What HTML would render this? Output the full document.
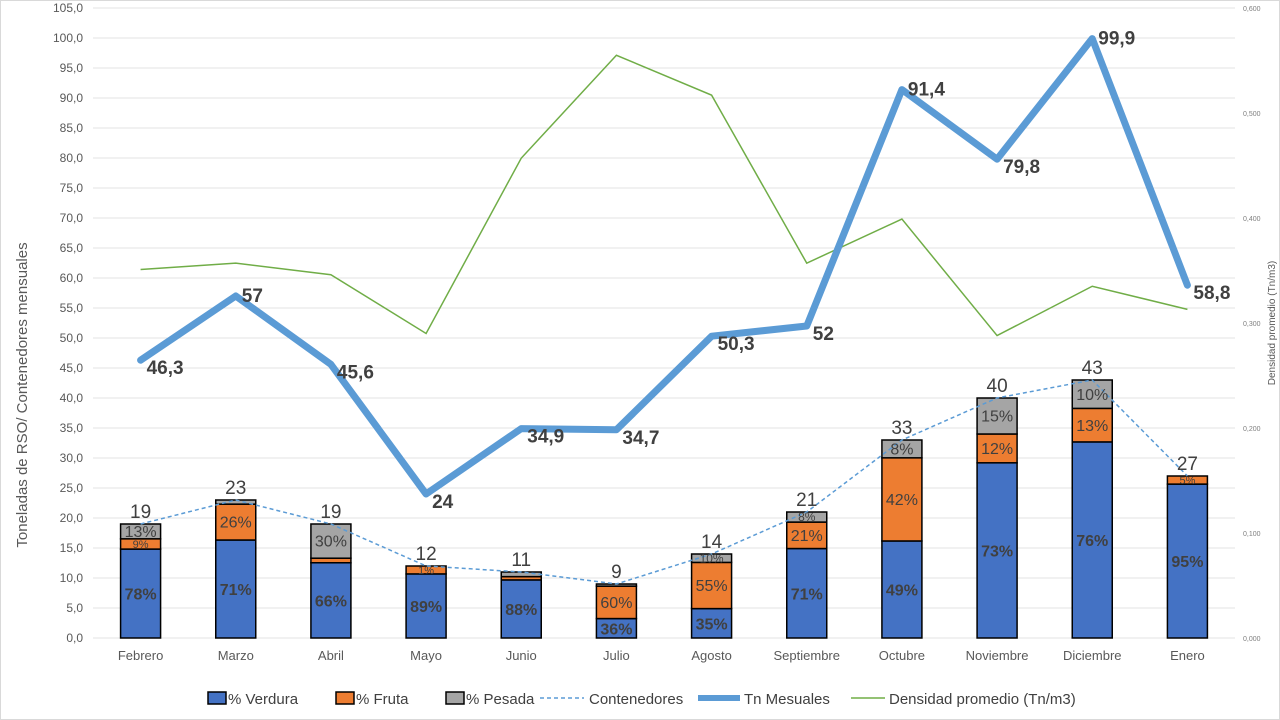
<!DOCTYPE html>
<html><head><meta charset="utf-8"><style>
html,body{margin:0;padding:0;background:#fff;}
svg{display:block;font-family:"Liberation Sans",sans-serif;}
</style></head><body>
<svg id="chart" width="1280" height="720" viewBox="0 0 1280 720" xmlns="http://www.w3.org/2000/svg">
<rect x="0.5" y="0.5" width="1279" height="719" fill="#fff" stroke="#d9d9d9"/>
<g id="grid"></g><g id="bars"></g><g id="lines"></g><g id="labels"></g>
<text transform="translate(27,395) rotate(-90)" text-anchor="middle" font-size="15" fill="#595959">Toneladas de RSO/ Contenedores mensuales</text>
<text transform="translate(1275,323) rotate(-90)" text-anchor="middle" font-size="10" fill="#595959">Densidad promedio (Tn/m3)</text>
<g id="legend" font-size="15" fill="#404040">
<rect x="208" y="692" width="18" height="12" fill="#4472c4" stroke="#000" stroke-width="1.5"/><text x="228" y="704">% Verdura</text>
<rect x="336" y="692" width="18" height="12" fill="#ed7d31" stroke="#000" stroke-width="1.5"/><text x="356" y="704">% Fruta</text>
<rect x="446" y="692" width="18" height="12" fill="#a5a5a5" stroke="#000" stroke-width="1.5"/><text x="466" y="704">% Pesada</text>
<line x1="540" y1="698" x2="584" y2="698" stroke="#5b9bd5" stroke-width="1.5" stroke-dasharray="4,3"/><text x="589" y="704">Contenedores</text>
<line x1="698" y1="698" x2="740" y2="698" stroke="#5b9bd5" stroke-width="6"/><text x="744" y="704">Tn Mesuales</text>
<line x1="851" y1="698" x2="885" y2="698" stroke="#70ad47" stroke-width="1.5"/><text x="889" y="704">Densidad promedio (Tn/m3)</text>
</g>
</svg>
<script>
const months=["Febrero","Marzo","Abril","Mayo","Junio","Julio","Agosto","Septiembre","Octubre","Noviembre","Diciembre","Enero"];
const containers=[19,23,19,12,11,9,14,21,33,40,43,27];
const verdura=[78,71,66,89,88,36,35,71,49,73,76,95];
const fruta=[9,26,4,11,5,60,55,21,42,12,13,5];
const pesada=[13,3,30,0,7,4,10,8,9,15,11,0];
const pesadaLbl=["13%","","30%","","","","10%","8%","8%","15%","10%",""];
const frutaLbl=["9%","26%","","1%","","60%","55%","21%","42%","12%","13%","5%"];
const tn=[46.3,57,45.6,24,34.9,34.7,50.3,52,91.4,79.8,99.9,58.8];
const densidad=[0.351,0.357,0.346,0.29,0.457,0.555,0.517,0.357,0.399,0.288,0.335,0.313];
const yTicks=[0,5,10,15,20,25,30,35,40,45,50,55,60,65,70,75,80,85,90,95,100,105];
const y2Ticks=[0,0.1,0.2,0.3,0.4,0.5,0.6];

const NS="http://www.w3.org/2000/svg";
const X0=93,X1=1235,Y0=638,Y1=8;
const y=v=>Y0-(v/105)*(Y0-Y1);
const y2=v=>Y0-(v/0.6)*(Y0-Y1);
const step=(X1-X0)/months.length;
const x=i=>X0+step*(i+0.5);
function mk(tag,attrs,parent,txt){const e=document.createElementNS(NS,tag);for(const k in attrs)e.setAttribute(k,attrs[k]);if(txt!==undefined)e.textContent=txt;document.getElementById(parent).appendChild(e);return e;}
const fmt=v=>v.toFixed(1).replace('.',',');

yTicks.forEach(t=>{
  const l=mk('line',{x1:X0,x2:X1,y1:y(t),y2:y(t),stroke:'#e3e3e3','stroke-width':1},'grid');
  
  
  const tx=mk('text',{x:83,y:y(t)+4,'text-anchor':'end','font-size':12,fill:'#595959'},'grid',fmt(t));
  
  
});
y2Ticks.forEach(t=>{
  const tx=mk('text',{x:1243,y:y2(t)+3,'font-size':7,fill:'#7f7f7f'},'grid',t.toFixed(3).replace('.',','));
  
  
});
months.forEach((m,i)=>{
  const tx=mk('text',{x:x(i),y:660,'text-anchor':'middle','font-size':13,fill:'#595959'},'grid',m);
  
  
});

const BW=40;
months.forEach((m,i)=>{
  const tot=containers[i];
  const v=tot*verdura[i]/100,f=tot*fruta[i]/100,p=tot*pesada[i]/100;
  const segs=[[0,v,'#4472c4','bar-verdura'],[v,v+f,'#ed7d31','bar-fruta'],[v+f,v+f+p,'#a5a5a5','bar-pesada']];
  segs.forEach(s=>{
    if(s[1]-s[0]<=0)return;
    const r=mk('rect',{x:x(i)-BW/2,y:y(s[1]),width:BW,height:y(s[0])-y(s[1]),fill:s[2],stroke:'#000','stroke-width':1.5},'bars');
    
    
  });
  const lv=mk('text',{x:x(i),y:y(v/2)+6,'text-anchor':'middle','font-size':16,'font-weight':'bold',fill:'#404040'},'labels',verdura[i]+'%');
  
  
  if(frutaLbl[i]){const fs=f*6>14?16:11;
    const lf=mk('text',{x:x(i),y:y(v+f/2)+fs*0.35,'text-anchor':'middle','font-size':fs,fill:'#404040'},'labels',frutaLbl[i]);
    
    }
  if(pesadaLbl[i]){const fs=p*6>14?16:12;
    const lp=mk('text',{x:x(i),y:y(v+f+p/2)+fs*0.35,'text-anchor':'middle','font-size':fs,fill:'#404040'},'labels',pesadaLbl[i]);
    
    }
  const lt=mk('text',{x:x(i),y:y(tot)-6,'text-anchor':'middle','font-size':19,fill:'#404040'},'labels',String(tot));
  
  
});

const dpath=densidad.map((d,i)=>(i?'L':'M')+x(i)+','+y2(d)).join(' ');
const dl=mk('path',{d:dpath,fill:'none',stroke:'#70ad47','stroke-width':1.5},'lines');


const cpath=containers.map((c,i)=>(i?'L':'M')+x(i)+','+y(c)).join(' ');
const cl=mk('path',{d:cpath,fill:'none',stroke:'#5b9bd5','stroke-width':1.5,'stroke-dasharray':'4,3'},'lines');


const tpath=tn.map((t,i)=>(i?'L':'M')+x(i)+','+y(t)).join(' ');
const tl=mk('path',{d:tpath,fill:'none',stroke:'#5b9bd5','stroke-width':7,'stroke-linejoin':'round','stroke-linecap':'round'},'lines');


tn.forEach((t,i)=>{
  const up=(i===1||i===8||i===10);
  const tx=mk('text',{x:x(i)+6,y:up?y(t)+6:y(t)+14,'font-size':19,'font-weight':'bold',fill:'#404040'},'labels',String(t).replace('.',','));
  
  
});
</script>
</body></html>
